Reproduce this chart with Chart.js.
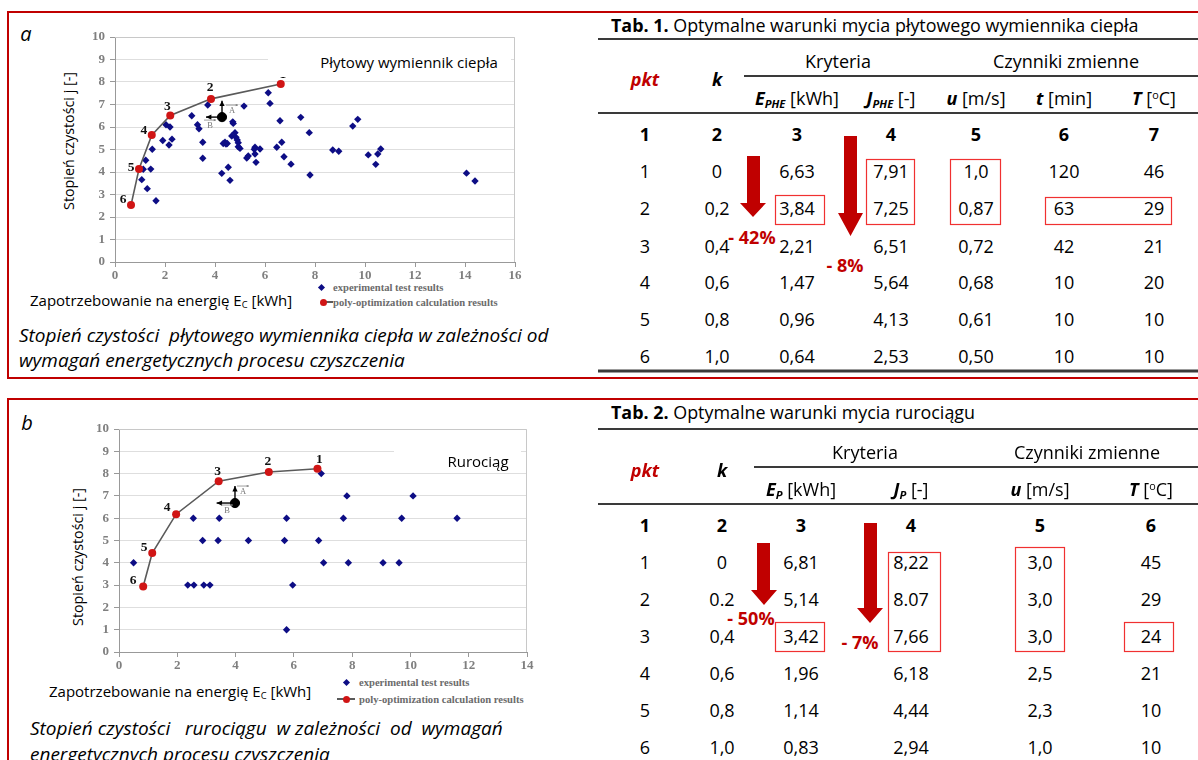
<!DOCTYPE html>
<html><head><meta charset="utf-8">
<script src="https://cdn.jsdelivr.net/npm/chart.js@4.4.0/dist/chart.umd.min.js"></script>
<style>
body{margin:0;background:#fff;}
#root{position:relative;width:1198px;height:760px;overflow:hidden;font-family:'Open Sans',sans-serif;color:#000;background:#fff;}
.t{position:absolute;white-space:pre;line-height:1.2;}
.c{transform:translate(-50%,-50%);}
.l{transform:translate(0,-50%);}
canvas{position:absolute;}
sub{font-size:0.62em;vertical-align:-0.25em;line-height:0;}
sup{font-size:0.6em;vertical-align:0.55em;line-height:0;}
.leg{position:absolute;font:bold 10.6px 'Liberation Serif',serif;color:#6b6b6b;white-space:nowrap;transform:translate(0,-50%);}
</style></head><body><div id="root"></div>
<script>
// ---------- DATA ----------
// Chart a: plate heat exchanger
const expA_x = [6.13,6.2,5.16,3.71,3.07,3.3,3.36,4.71,4.73,6.6,7.43,
  3.51,4.8,4.67,4.84,4.89,4.93,4.4,4.33,4.44,4.49,4.93,5.0,5.6,5.57,5.8,6.47,6.67,
  3.51,5.27,5.33,5.6,5.64,6.76,7.04,4.53,4.27,4.6,
  7.77,7.8,9.51,9.71,8.71,8.95,10.13,10.51,10.63,10.43,
  2.04,2.2,1.91,2.28,2.16,1.49,1.23,1.13,1.43,1.07,1.29,1.64,
  14.06,14.4];
const expA_y = [7.52,7.05,6.93,6.98,6.5,6.1,5.92,6.23,6.16,6.28,6.43,
  5.32,5.75,5.6,5.54,5.42,5.3,5.32,5.27,5.24,5.27,5.12,5.05,5.1,5.01,5.02,5.1,5.32,
  4.61,4.62,4.71,4.8,4.43,4.68,4.35,4.21,3.94,3.63,
  5.75,3.87,6.04,6.34,4.98,4.92,4.76,4.8,5.02,4.34,
  6.1,6.0,5.4,5.46,5.2,5.01,4.52,4.12,4.13,3.66,3.26,2.72,
  3.95,3.6];
const optA_E = [6.63,3.84,2.21,1.47,0.96,0.64];
const optA_J = [7.91,7.25,6.51,5.64,4.13,2.53];
const refA = [4.28,6.44];          // reference point with direction arrows
const refA_up = 7.17, refA_left = 3.64;

// Chart b: pipeline
const expB_x = [6.94,7.82,10.09,2.55,3.44,5.75,7.7,9.7,11.6,2.87,3.4,4.44,5.68,6.85,0.5,7.02,7.87,9.06,9.61,2.36,2.57,2.91,3.12,5.96,5.75];
const expB_y = [8,7,7,6,6,6,6,6,6,5,5,5,5,5,4,4,4,4,4,3,3,3,3,3,1];
const optB_E = [6.81,5.14,3.42,1.96,1.14,0.83];
const optB_J = [8.22,8.07,7.66,6.18,4.44,2.94];
const refB = [3.98,6.68];
const refB_up = 7.44, refB_left = 3.35;

const pointLabels = ['1','2','3','4','5','6'];
const xTicksA = [0,2,4,6,8,10,12,14,16];
const xTicksB = [0,2,4,6,8,10,12,14];
const yTicks = [0,1,2,3,4,5,6,7,8,9,10];

// Table 1
const tab1Pkt = ['1','2','3','4','5','6'];
const tab1K = ['0','0,2','0,4','0,6','0,8','1,0'];
const tab1E = ['6,63','3,84','2,21','1,47','0,96','0,64'];
const tab1J = ['7,91','7,25','6,51','5,64','4,13','2,53'];
const tab1U = ['1,0','0,87','0,72','0,68','0,61','0,50'];
const tab1t = ['120','63','42','10','10','10'];
const tab1T = ['46','29','21','20','10','10'];
// Table 2
const tab2Pkt = ['1','2','3','4','5','6'];
const tab2K = ['0','0.2','0,4','0,6','0,8','1,0'];
const tab2E = ['6,81','5,14','3,42','1,96','1,14','0,83'];
const tab2J = ['8,22','8.07','7,66','6,18','4,44','2,94'];
const tab2U = ['3,0','3,0','3,0','2,5','2,3','1,0'];
const tab2T = ['45','29','24','21','10','10'];

// ---------- LAYOUT ----------
const root = document.getElementById('root');
function T(html, x, y, css, cls){
  const d = document.createElement('div');
  d.className = 't ' + (cls||'c');
  d.style.left = x+'px'; d.style.top = y+'px';
  d.style.cssText += css||'';
  d.innerHTML = html;
  root.appendChild(d);
  return d;
}
const RED = '#c00000';

// panel borders
function box(l,t,w,h,css){const d=document.createElement('div');d.style.cssText=`position:absolute;left:${l}px;top:${t}px;width:${w}px;height:${h}px;box-sizing:border-box;`+css;root.appendChild(d);return d;}
box(7,11,1300,368,`border:2px solid ${RED};`);
box(7,398,1300,500,`border:2px solid ${RED};`);

// panel letters
T('a',26,33,"font:italic 20px 'Open Sans';");
T('b',27,422,"font:italic 20px 'Open Sans';");

// captions
const capCss = "font:italic 19px 'Open Sans';";
T('Stopień czystości  płytowego wymiennika ciepła w zależności od',19,335,capCss,'l');
T('wymagań energetycznych procesu czyszczenia',19,360,capCss,'l');
T('Stopień czystości   rurociągu  w zależności  od  wymagań',30,728,capCss,'l');
T('energetycznych procesu czyszczenia',30,754,capCss,'l');

// axis titles
T('Stopień czystości j [-]',68,141,"font:14.3px 'Open Sans';transform:translate(-50%,-50%) rotate(-90deg);");
T('Stopień czystości j [-]',77,557,"font:14.3px 'Open Sans';transform:translate(-50%,-50%) rotate(-90deg);");
T('Zapotrzebowanie na energię E<sub>C</sub> [kWh]',30,300,"font:15px 'Open Sans';",'l');
T('Zapotrzebowanie na energię E<sub>C</sub> [kWh]',49,691,"font:15px 'Open Sans';",'l');

// legends
function legend(dotX,y1,lineX1,lineX2,redX,y2,textX){
  box(dotX-2.5,y1-2.5,5,5,'background:#0d0d85;transform:rotate(45deg);');
  const a=document.createElement('div');a.className='leg';a.style.left=textX+'px';a.style.top=y1+'px';a.textContent='experimental test results';root.appendChild(a);
  box(lineX1,y2-0.75,lineX2-lineX1,1.6,'background:#5a5a5a;');
  box(redX-3.5,y2-3.5,7,7,'background:#d01515;border-radius:50%;');
  const b=document.createElement('div');b.className='leg';b.style.left=textX+'px';b.style.top=y2+'px';b.textContent='poly-optimization calculation results';root.appendChild(b);
}
legend(321,287,321,333,323,302,333);
legend(346,682,337,355,346,699,359);

// ---------- CHARTS ----------
Chart.defaults.font.family = "'Liberation Serif', serif";
const framePlugin = {
  id:'frame',
  beforeDatasetsDraw(chart){
    const a=chart.chartArea, ctx=chart.ctx;
    ctx.save(); ctx.strokeStyle='#c8c8c8'; ctx.lineWidth=1;
    ctx.beginPath(); ctx.moveTo(a.left,a.top+0.5); ctx.lineTo(a.right-0.5,a.top+0.5); ctx.lineTo(a.right-0.5,a.bottom); ctx.stroke();
    ctx.restore();
  }
};
function arrow(ctx,x1,y1,x2,y2,h){
  const ang=Math.atan2(y2-y1,x2-x1);
  ctx.beginPath();ctx.moveTo(x1,y1);ctx.lineTo(x2,y2);ctx.stroke();
  ctx.beginPath();ctx.moveTo(x2,y2);
  ctx.lineTo(x2-h*Math.cos(ang-0.45),y2-h*Math.sin(ang-0.45));
  ctx.lineTo(x2-h*Math.cos(ang+0.45),y2-h*Math.sin(ang+0.45));
  ctx.closePath();ctx.fill();
}
const ptsPlugin = {
  id:'pts',
  afterDatasetsDraw(chart,args,o){
    const ctx=chart.ctx, xs=chart.scales.x, ys=chart.scales.y;
    const meta=chart.getDatasetMeta(1);
    ctx.save();
    ctx.font="bold 13.5px 'Liberation Serif'"; ctx.fillStyle='#111'; ctx.textAlign='center'; ctx.textBaseline='middle';
    pointLabels.forEach((lab,i)=>{const p=meta.data[i]; ctx.fillText(lab,p.x+o.offsets[i][0],p.y+o.offsets[i][1]);});
    const bx=xs.getPixelForValue(o.ref[0]), by=ys.getPixelForValue(o.ref[1]);
    ctx.strokeStyle='#000'; ctx.fillStyle='#000'; ctx.lineWidth=1.4;
    arrow(ctx,bx,by,bx,ys.getPixelForValue(o.up),6);
    arrow(ctx,bx,by,xs.getPixelForValue(o.left),by,6);
    // vector labels A and B
    ctx.font="8.5px 'Liberation Serif'"; ctx.fillStyle='#777'; ctx.strokeStyle='#888'; ctx.lineWidth=0.8;
    [['A',o.aOff],['B',o.bOff]].forEach(([s,off])=>{
      const lx=bx+off[0], ly=by+off[1];
      ctx.fillText(s,lx,ly);
      arrow(ctx,lx-6,ly-6,lx+6,ly-6,2.5);
    });
    ctx.restore();
  }
};
function makeChart(id,left,top,w,h,xmax,xTicks,expX,expY,optX,optY,ref,up,lft,o,pad,yW,xH){
  const cv=document.createElement('canvas'); cv.id=id; cv.width=w; cv.height=h;
  cv.style.left=left+'px'; cv.style.top=top+'px'; cv.style.width=w+'px'; cv.style.height=h+'px';
  root.appendChild(cv);
  const tickFont={family:"'Liberation Serif'",size:13,weight:'bold'};
  new Chart(cv,{
    type:'scatter',
    data:{datasets:[
      {label:'experimental test results',data:expX.map((x,i)=>({x,y:expY[i]})),pointStyle:'rectRot',pointRadius:3.7,backgroundColor:'#0d0d85',borderColor:'#0d0d85',borderWidth:0,order:3},
      {label:'poly-optimization calculation results',data:optX.map((x,i)=>({x,y:optY[i]})),showLine:true,borderColor:'#5a5a5a',borderWidth:1.6,pointRadius:4,pointBackgroundColor:'#d01515',pointBorderColor:'#d01515',pointBorderWidth:0,order:1},
      {label:'ref',data:[{x:ref[0],y:ref[1]}],pointRadius:4.6,backgroundColor:'#000',borderColor:'#000',order:2}
    ]},
    options:{
      responsive:false,animation:false,devicePixelRatio:1,
      layout:{padding:pad},
      plugins:{legend:{display:false},tooltip:{enabled:false},
        pts:Object.assign({ref:ref,up:up,left:lft},o)},
      scales:{
        x:{type:'linear',min:0,max:xmax,
          afterBuildTicks:(ax)=>{ax.ticks=xTicks.map(v=>({value:v}));},
          afterFit:(ax)=>{ax.height=xH;},
          ticks:{font:tickFont,color:'#7f7f7f',padding:1},
          grid:{drawOnChartArea:false,drawTicks:true,tickLength:5,tickColor:'#999'},
          border:{color:'#999'}},
        y:{type:'linear',min:0,max:10,
          afterBuildTicks:(ax)=>{ax.ticks=yTicks.map(v=>({value:v}));},
          afterFit:(ax)=>{ax.width=yW;},
          ticks:{font:tickFont,color:'#7f7f7f',padding:5},
          grid:{color:'#dedede',tickColor:'#999',tickLength:5},
          border:{color:'#999'}}
      }
    },
    plugins:[framePlugin,ptsPlugin]
  });
}
makeChart('ca',40,22,500,262,16,xTicksA,expA_x,expA_y,optA_E,optA_J,refA,refA_up,refA_left,
  {offsets:[[2,-10],[-1,-11],[-3,-9],[-8,-5],[-8,-2],[-8,-6]],aOff:[10,-6],bOff:[-12,9]},
  {left:0,right:25,top:15,bottom:0},75,22);
makeChart('cb',44,414,500,262,14,xTicksB,expB_x,expB_y,optB_E,optB_J,refB,refB_up,refB_left,
  {offsets:[[2,-9],[-1,-11],[-1,-10],[-9,-7],[-8,-5],[-10,-6]],aOff:[8,-11],bOff:[-8,8]},
  {left:0,right:17,top:15,bottom:0},75,24);

// chart inner titles (white boxes covering gridline)
box(268,47,243,30,'background:#fff;');
T('Płytowy wymiennik ciepła',409,62,"font:15px 'Open Sans';");
box(394,441,127,28,'background:#fff;');
T('Rurociąg',478,461,"font:15px 'Open Sans';");

// ---------- TABLES ----------
const cellCss="font:18px 'Open Sans';";
const boldCss="font:bold 18px 'Open Sans';";
function table(y0, cols, rowsY, data, titleHtml, hdr){
  T(titleHtml,611,y0,"font:17.9px 'Open Sans';",'l');
  T('<i>pkt</i>',645,hdr.pktY,`font:bold 18px 'Open Sans';color:${RED};`);
  T('<i>k</i>',hdr.kX,hdr.pktY,boldCss);
  T('Kryteria',hdr.kryX,hdr.kryY,cellCss);
  T('Czynniki zmienne',hdr.czX,hdr.kryY,cellCss);
  hdr.sub.forEach((h,i)=>T(h,cols[i+2],hdr.subY,cellCss));
  cols.forEach((x,i)=>T(String(i+1),x,hdr.numY,boldCss));
  data.forEach((col,ci)=>col.forEach((v,ri)=>T(v,cols[ci],rowsY[ri],cellCss)));
}
table(25,[645,717,797,891,976,1064,1154],[171,208,246,282,319,356],
  [tab1Pkt,tab1K,tab1E,tab1J,tab1U,tab1t,tab1T],
  '<b>Tab. 1.</b> Optymalne warunki mycia płytowego wymiennika ciepła',
  {pktY:79,kX:717,kryX:838,czX:1066,kryY:61,subY:98,numY:134,
   sub:['<b><i>E<sub>PHE</sub></i></b> [kWh]','<b><i>J<sub>PHE</sub></i></b> [-]','<b><i>u</i></b> [m/s]','<b><i>t</i></b> [min]','<b><i>T</i></b> [<sup>o</sup>C]']});
table(412,[645,722,801,911,1040,1151],[562,599,636,673,710,747],
  [tab2Pkt,tab2K,tab2E,tab2J,tab2U,tab2T],
  '<b>Tab. 2.</b> Optymalne warunki mycia rurociągu',
  {pktY:470,kX:722,kryX:865,czX:1087,kryY:452,subY:489,numY:525,
   sub:['<b><i>E<sub>P</sub></i></b> [kWh]','<b><i>J<sub>P</sub></i></b> [-]','<b><i>u</i></b> [m/s]','<b><i>T</i></b> [<sup>o</sup>C]']});

// percentage labels
const pctCss=`font:bold 18px 'Open Sans';color:${RED};`;
T('- 42%',752,237,pctCss); T('- 8%',845,265,pctCss);
T('- 50%',751,618,pctCss); T('- 7%',860,642,pctCss);

// SVG: rules, boxes, arrows
const NS='http://www.w3.org/2000/svg';
const svg=document.createElementNS(NS,'svg');
svg.setAttribute('width','1198');svg.setAttribute('height','760');
svg.style.cssText='position:absolute;left:0;top:0;pointer-events:none;';
root.appendChild(svg);
function el(tag,attrs){const e=document.createElementNS(NS,tag);for(const k in attrs)e.setAttribute(k,attrs[k]);svg.appendChild(e);return e;}
[[598,39,2.2],[744,76,2],[598,113,2],[598,371,3],[598,429,2.2],[754,467,2],[598,504,2]].forEach(([x,y,w])=>
  el('line',{x1:x,y1:y,x2:1198,y2:y,stroke:'#3a3a3a','stroke-width':w}));
[[775,195,49,29],[866,159,48,65],[950,159,50,65],[1045,197,126,27],
 [775,622,49,29],[888,552,52,99],[1015,547,49,104],[1124,622,49,29]].forEach(([x,y,w,h])=>
  el('rect',{x:x+0.5,y:y+0.5,width:w,height:h,fill:'none',stroke:'#f03030','stroke-width':1.2}));
function redArrow(x1,x2,top,headY,hx1,hx2,tip){
  el('polygon',{points:`${x1},${top} ${x2},${top} ${x2},${headY} ${hx2},${headY} ${(hx1+hx2)/2},${tip} ${hx1},${headY} ${x1},${headY}`,fill:RED});
}
redArrow(747,760,156,203,740,766,217);
redArrow(844,857,136,213,838,863,236);
redArrow(757,770,543,590,751,777,605);
redArrow(864,877,523,608,857,883,623);
</script></body></html>
